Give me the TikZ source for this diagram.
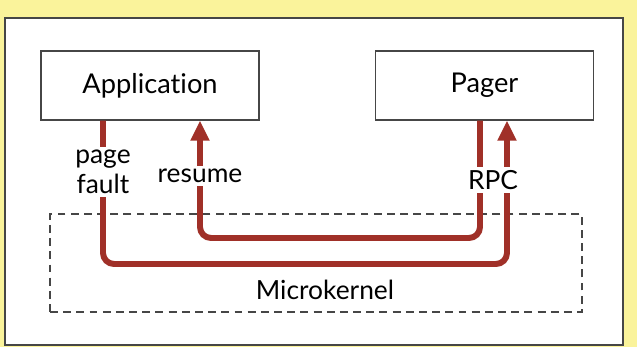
\documentclass[tikz,border=0pt]{standalone}
\usepackage{fontspec}
\setmainfont{Lato}[Ligatures=NoCommon]
\usetikzlibrary{arrows.meta}
\definecolor{faultred}{RGB}{160,48,40}
\definecolor{notepad}{RGB}{250,243,155}
\definecolor{edgegray}{RGB}{70,70,70}

\begin{document}
\begin{tikzpicture}[x=0.02cm, y=-0.02cm,
        box/.style={draw=edgegray, line width=0.8pt, fill=white, minimum width=4.36cm, minimum height=1.38cm, font=\fontsize{15.5}{17}\selectfont},
        call/.style={faultred, line width=3.4pt, rounded corners=0.22cm},
        tip/.style={-{Triangle[length=0.4cm,width=0.36cm]}},
        tag/.style={fill=white, inner sep=2pt, font=\fontsize{15}{17}\selectfont, align=center}]
        % frame
        \fill[notepad] (0,0) rectangle (637,347);
        \draw[edgegray, line width=1pt, fill=white] (5,18) rectangle (623,345);

        % Application and pager
        \node[box] (app) at (150,85.5) {Application};
        \node[box] (pager) at (484.5,85.5) {Pager};

        % Microkernel
        \node[draw=edgegray, line width=0.8pt, dash pattern=on 4.5pt off 3pt, minimum width=10.64cm, minimum height=1.96cm] (kernel) at (316,263) {};
        \node[tag, fill=none] (mk) at (325,290) {Microkernel};

        % page fault and resume paths
        \coordinate (faultDown) at (103,264);
        \coordinate (faultUp) at (507,264);
        \coordinate (resumeDown) at (480,238);
        \coordinate (resumeUp) at (200,238);
        \draw[call, tip] (app.south -| faultDown) |- (faultUp) -- (pager.south -| faultUp);
        \draw[call, tip] (pager.south -| resumeDown) |- (resumeUp) -- (app.south -| resumeUp);

        \node[tag] (fault) at (103,172) {page\\fault};
        \node[tag] (resume) at (200,176) {resume};
        \node[tag] (rpc) at (493,180) {RPC};
    \end{tikzpicture}
\end{document}
